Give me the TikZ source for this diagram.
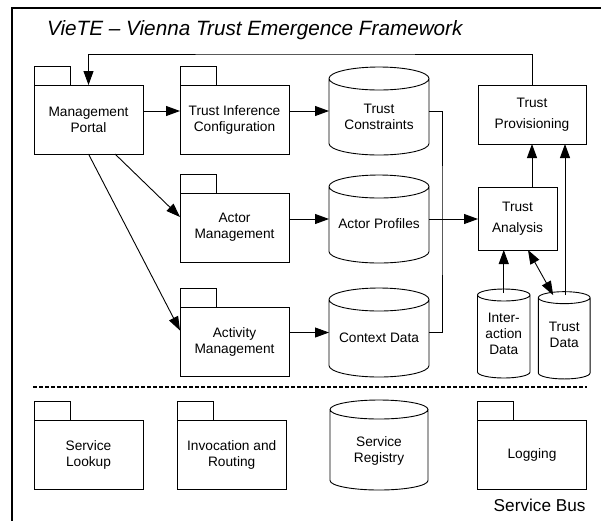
\documentclass[tikz,border=0pt]{standalone}
\usepackage{fontspec}
\setmainfont{Liberation Sans}
\usetikzlibrary{arrows.meta,calc}

\newcommand\nodefont{\fontsize{13.7}{16}\selectfont}
\newcommand\widefont{\fontsize{13.7}{21}\selectfont}

\tikzset{
  boxline/.style={draw=black, line width=0.9pt},
  pkg/.style={boxline, rectangle, minimum width=109pt, minimum height=69pt,
    inner sep=0pt, outer sep=0pt, align=center, font=\nodefont},
  plainbox/.style={boxline, rectangle, inner sep=0pt, outer sep=0pt,
    align=center, font=\widefont},
  cylbox/.style={rectangle, draw=none, inner sep=0pt, outer sep=0pt},
  cyltext/.style={align=center, font=\nodefont, inner sep=0pt},
  flow/.style={line width=0.9pt, -{Triangle[length=14pt,width=10pt]}},
  flowboth/.style={line width=0.9pt,
    {Triangle[length=14pt,width=10pt]}-{Triangle[length=14pt,width=10pt]}},
  plainline/.style={line width=0.9pt},
}

% tab on top of a package node
\newcommand\pkgtab[1]{\draw[boxline] (#1.north west) rectangle ++(36,-19);}
% cylinder outline round a node: name, half width, cap radius (pt)
\newcommand\cylshape[3]{%
  \draw[boxline] ([yshift=-#3pt]#1.north west) -- ([yshift=#3pt]#1.south west)
    arc[start angle=180, end angle=360, x radius=#2pt, y radius=#3pt]
    -- ([yshift=-#3pt]#1.north east)
    ([yshift=-#3pt]#1.north) ellipse[x radius=#2pt, y radius=#3pt];}

\begin{document}
\begin{tikzpicture}[x=1pt, y=-1pt]
\useasboundingbox (0,0) rectangle (601,520);
\clip (0,0) rectangle (601,520);

% framework frame
\draw[line width=1.8pt] (12,8) rectangle (640,560);
\node[font=\fontsize{20.7}{24}\selectfont\itshape, anchor=base west, inner sep=0pt]
  (title) at (47,35.7) {VieTE – Vienna Trust Emergence Framework};

% management packages
\node[pkg] (mp)   at (88.5,119.5)  {Management\\Portal};
\node[pkg] (tic)  at (234.5,119.5) {Trust Inference\\Configuration};
\node[pkg] (am)   at (234.5,227.5) {Actor\\Management};
\node[pkg] (actm) at (234.5,341.5) {Activity\\Management};
\pkgtab{mp} \pkgtab{tic} \pkgtab{am} \pkgtab{actm}

% data stores
\node[cylbox, minimum width=100pt, minimum height=88pt,
  label={[cyltext, yshift=-6pt]center:Trust\\Constraints}] (tc) at (379,111) {};
\node[cylbox, minimum width=100pt, minimum height=88pt,
  label={[cyltext, yshift=-5pt]center:Actor Profiles}] (ap) at (379,219) {};
\node[cylbox, minimum width=100pt, minimum height=89pt,
  label={[cyltext, yshift=-5pt]center:Context Data}] (cd) at (379,332.5) {};
\cylshape{tc}{50}{11.5} \cylshape{ap}{50}{11.5} \cylshape{cd}{50}{11.5}

\node[cylbox, minimum width=52.5pt, minimum height=89pt,
  label={[cyltext]center:Inter-\\action\\Data}] (id) at (503.75,333.5) {};
\node[cylbox, minimum width=51.7pt, minimum height=87.3pt,
  label={[cyltext]center:Trust\\Data}] (td) at (564.2,335.3) {};
\cylshape{id}{26.25}{6} \cylshape{td}{25.85}{6}

% trust components
\node[plainbox, minimum width=108pt, minimum height=59pt] (tp) at (532,114.5) {Trust\\Provisioning};
\node[plainbox, minimum width=79pt, minimum height=63pt] (ta) at (517.5,218.5) {Trust\\Analysis};

% connectors
\draw[flow] (mp.east |- tc.west) -- (tic.west |- tc.west);
\draw[flow] (tic.east |- tc.west) -- (tc.west);
\draw[flow] ($(mp.south)+(26.5,0)$) -- ($(am.west)+(0,-10.5)$);
\draw[flow] (mp.south) -- ($(actm.west)+(0,-11)$);
\draw[flow] (am.east |- ap.west) -- (ap.west);
\draw[flow] (actm.east |- cd.west) -- (cd.west);

\coordinate (merge) at (442,219);
\draw[plainline] (tc.east) -| (merge) |- (cd.east);
\draw[flow] (ap.east) -- (ap.east -| ta.west);

\coordinate (tdtop) at ($(td.north)+(0.8,3.5)$);
\coordinate (idtop) at ($(id.north)+(0,4)$);
\draw[flow] (tp.south |- ta.north) -- (tp.south);
\draw[flow] (tdtop) -- (tdtop |- tp.south);
\draw[flow] (idtop) -- (idtop |- ta.south);
\draw[flowboth] ($(ta.south)+(10.5,0)$) -- ($(td.north)+(-11,3.5)$);

\coordinate (fbtop) at (300,54);
\draw[flow] (tp.north) |- (fbtop) -| (mp.north);

% service bus layer
\draw[line width=1.8pt, dash pattern=on 3.5pt off 2.5pt] (33,387) -- (587,387);

\node[pkg] (sl)  at (88.5,454.5)  {Service\\Lookup};
\node[pkg] (ir)  at (231.7,454.5) {Invocation and\\Routing};
\node[pkg] (log) at (532,454.5)   {Logging};
\pkgtab{sl} \pkgtab{ir} \pkgtab{log}

\node[cylbox, minimum width=98pt, minimum height=90pt,
  label={[cyltext, yshift=-5.5pt]center:Service\\Registry}] (sr) at (379,445) {};
\cylshape{sr}{49}{9.5}

\node[font=\fontsize{17.2}{20}\selectfont, anchor=base east, inner sep=0pt]
  (bus) at (585.7,511.7) {Service Bus};
\end{tikzpicture}
\end{document}
